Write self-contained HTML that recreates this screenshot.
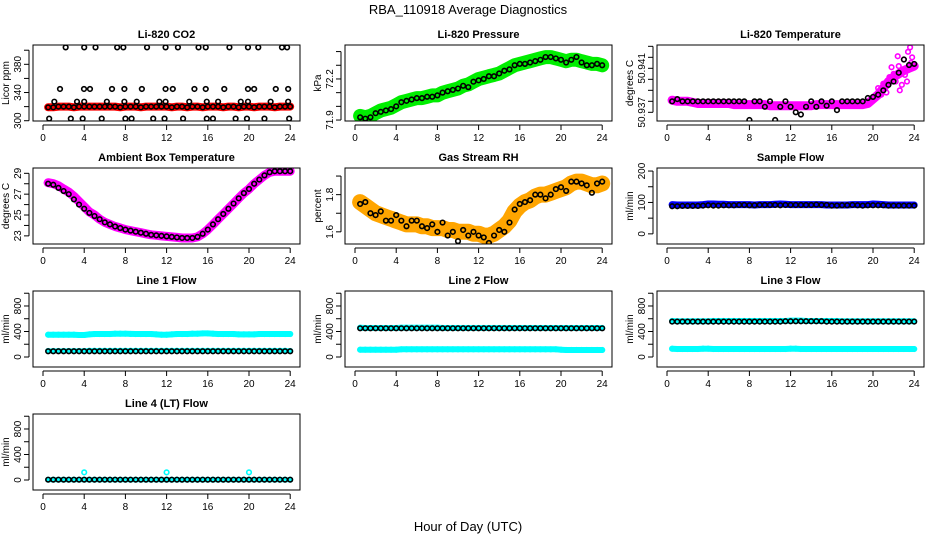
<!DOCTYPE html>
<html><head><meta charset="utf-8"><style>
html,body{margin:0;padding:0;background:#fff;}
svg{display:block;font-family:"Liberation Sans",sans-serif;}
</style></head><body>
<svg id="chart" width="936" height="540" viewBox="0 0 936 540" xmlns="http://www.w3.org/2000/svg">
<rect width="936" height="540" fill="#fff"/>
<text x="468" y="14" text-anchor="middle" font-size="13">RBA_110918  Average Diagnostics</text>
<text x="468" y="531" text-anchor="middle" font-size="13">Hour of Day (UTC)</text>
</svg>
<script>
const hours = [0.5,1,1.5,2,2.5,3,3.5,4,4.5,5,5.5,6,6.5,7,7.5,8,8.5,9,9.5,10,10.5,11,11.5,12,12.5,13,13.5,14,14.5,15,15.5,16,16.5,17,17.5,18,18.5,19,19.5,20,20.5,21,21.5,22,22.5,23,23.5,24];
const xTicks = [0,4,8,12,16,20,24];

const co2Color = [319,319,320,320,320,319,320,320,320,320,320,320,320,320,319,320,320,320,319,320,320,320,320,320,319,320,320,319,320,320,319,320,320,320,319,320,320,319,320,320,319,320,320,320,319,320,320,320];
const co2OutHours = [2.2,4.0,5.1,7.2,7.8,10.1,11.9,13.1,15.1,15.8,18.1,19.9,20.9,23.2,23.7,1.65,3.98,4.56,6.7,7.9,9.6,11.9,12.6,14.7,15.8,17.6,19.9,20.5,22.6,23.8,1.1,3.3,4.0,6.2,7.9,9.1,11.3,11.9,14.2,15.9,17.0,19.2,19.9,22.1,23.8,0.6,2.7,3.85,5.7,8.0,8.6,10.7,11.8,13.6,15.9,16.5,18.7,19.8,21.5,23.9];
const co2OutValues = [404,404,404,404,404,404,404,404,404,404,404,404,404,404,404,345,345,345,345,345,345,345,345,345,345,345,345,345,345,345,327,327,327,327,327,327,327,327,327,327,327,327,327,327,327,303,303,303,303,303,303,303,303,303,303,303,303,303,303,303];

const presGreen = [71.93,71.92,71.93,71.95,71.97,71.98,71.99,72.01,72.03,72.04,72.05,72.06,72.06,72.07,72.08,72.08,72.10,72.11,72.12,72.13,72.15,72.16,72.18,72.20,72.21,72.22,72.23,72.24,72.26,72.28,72.30,72.31,72.32,72.33,72.34,72.35,72.36,72.36,72.35,72.34,72.33,72.34,72.34,72.33,72.32,72.31,72.31,72.30];
const presBlack = [71.92,71.91,71.92,71.95,71.96,71.97,71.98,72.00,72.03,72.04,72.05,72.06,72.06,72.07,72.07,72.08,72.10,72.11,72.12,72.13,72.15,72.14,72.18,72.19,72.20,72.22,72.22,72.24,72.26,72.27,72.30,72.31,72.31,72.32,72.33,72.34,72.36,72.36,72.35,72.34,72.32,72.34,72.36,72.32,72.30,72.30,72.31,72.30];

const tempMag = [50.9381,50.938,50.938,50.938,50.9379,50.9378,50.9378,50.9378,50.9378,50.9378,50.9378,50.9378,50.9377,50.9377,50.9377,50.9377,50.9377,50.9377,50.9377,50.9376,50.9376,50.9376,50.9376,50.9376,50.9376,50.9376,50.9376,50.9376,50.9377,50.9377,50.9377,50.9377,50.9377,50.9377,50.9377,50.9377,50.9377,50.9377,50.9378,50.9382,50.9386,50.9392,50.9398,50.9402,50.9405,50.9408,50.941,50.9412];
const tempBlack = [50.938,50.9382,50.938,50.938,50.938,50.938,50.938,50.938,50.938,50.938,50.938,50.938,50.938,50.938,50.938,50.9363,50.938,50.938,50.9375,50.938,50.9363,50.9375,50.938,50.9375,50.937,50.9368,50.9375,50.938,50.9375,50.938,50.9376,50.938,50.9372,50.938,50.938,50.938,50.938,50.938,50.9383,50.9384,50.9386,50.939,50.9395,50.9398,50.9406,50.9418,50.9413,50.9414];
const tempScatHours = [20.5,21,21.3,21.6,22,22.2,22.5,22.8,23,23.2,23.4,23.6,23.8,21.8,22.6,23.1,23.7,20.8,22.4,23.3];
const tempScatValues = [50.9392,50.9396,50.9388,50.9402,50.9405,50.9398,50.9412,50.9395,50.9418,50.9408,50.9425,50.9429,50.942,50.9411,50.939,50.9404,50.9415,50.9386,50.9421,50.9398];

const ambMag = [28.1,28.0,27.8,27.5,27.2,26.8,26.3,25.8,25.3,25.0,24.6,24.3,24.1,23.9,23.75,23.6,23.5,23.4,23.3,23.2,23.1,23.05,23.0,22.95,22.9,22.85,22.8,22.8,22.8,22.9,23.2,23.6,24.1,24.6,25.1,25.6,26.1,26.6,27.1,27.5,28.0,28.4,28.8,29.1,29.2,29.2,29.2,29.2];
const ambBlack = [28.0,27.9,27.6,27.3,27.0,26.5,26.0,25.6,25.2,24.9,24.6,24.3,24.1,23.9,23.75,23.6,23.5,23.4,23.3,23.2,23.1,23.05,23.0,22.95,22.9,22.85,22.8,22.8,22.8,22.9,23.2,23.6,24.1,24.6,25.1,25.6,26.1,26.6,27.1,27.5,28.0,28.4,28.8,29.1,29.2,29.2,29.2,29.2];

const rhOrange = [1.76,1.74,1.72,1.70,1.69,1.68,1.67,1.66,1.65,1.64,1.64,1.64,1.63,1.63,1.62,1.62,1.62,1.61,1.61,1.60,1.60,1.60,1.59,1.59,1.58,1.58,1.59,1.61,1.63,1.66,1.71,1.74,1.76,1.77,1.79,1.80,1.80,1.81,1.82,1.83,1.84,1.86,1.87,1.87,1.86,1.85,1.85,1.86];
const rhBlack = [1.75,1.76,1.70,1.69,1.71,1.66,1.66,1.69,1.66,1.63,1.66,1.66,1.63,1.62,1.64,1.60,1.65,1.58,1.60,1.55,1.61,1.58,1.60,1.58,1.57,1.54,1.58,1.61,1.60,1.65,1.72,1.75,1.76,1.77,1.80,1.80,1.78,1.80,1.83,1.84,1.82,1.87,1.87,1.86,1.85,1.81,1.86,1.87];

const sfBlue = [93,92,92,92,92,92,93,95,95,94,94,93,93,93,93,93,92,93,93,93,94,95,94,93,93,93,93,93,93,93,92,92,92,92,92,93,93,93,93,95,94,93,92,92,92,92,92,92];
const sfBlack = [88,88,89,89,89,89,90,91,90,90,91,91,91,92,92,91,91,92,92,92,92,91,92,92,92,92,92,92,93,92,92,90,90,91,91,92,91,90,91,91,91,91,90,90,90,90,90,90];

const l1High = [350,350,350,350,350,350,345,345,355,360,360,360,360,365,365,365,362,360,360,360,360,355,350,350,355,360,360,360,365,365,370,370,365,360,360,360,360,355,355,355,355,360,360,360,360,360,360,360];
const l1Low = [95,95,95,95,95,95,95,95,100,100,100,100,100,100,100,100,100,100,100,100,100,100,100,100,100,100,100,100,100,100,100,100,100,100,100,100,100,100,100,100,100,100,100,100,100,100,100,95];
const l1Black = [90,90,90,90,90,90,90,90,90,90,90,90,90,90,90,90,90,90,90,90,90,90,90,90,90,90,90,90,90,90,90,90,90,90,90,90,90,90,90,90,90,90,90,90,90,90,90,90];

const l2High = [460,455,455,455,455,455,455,455,460,460,460,460,460,460,460,460,455,455,455,455,455,455,455,455,455,455,455,455,455,455,455,455,455,455,455,455,455,455,455,455,455,455,455,455,455,455,455,455];
const l2Low = [115,115,115,115,115,115,115,115,120,120,120,120,120,120,120,120,120,120,120,120,120,120,120,120,120,120,120,120,120,120,120,120,120,120,120,120,120,120,120,115,110,110,110,110,110,110,110,110];
const l2Black = [450,450,450,450,450,450,450,450,450,450,450,450,450,450,450,450,450,450,450,450,450,450,450,450,450,450,450,450,450,450,450,450,450,450,450,450,450,450,450,450,450,450,450,450,450,450,450,450];

const l3High = [565,560,560,560,560,560,560,560,565,565,565,565,565,565,565,565,565,565,565,565,565,565,565,570,570,570,565,565,565,565,565,565,565,560,560,560,560,560,560,560,560,560,560,560,560,560,560,560];
const l3Low = [130,125,125,125,125,125,130,130,125,125,125,125,125,125,125,125,125,125,125,125,125,125,125,130,130,125,125,125,125,125,125,125,125,125,125,125,125,125,125,125,125,125,125,125,125,125,125,125];
const l3Black = [555,555,555,555,555,555,555,555,555,555,555,555,555,555,555,555,555,555,555,555,555,555,560,560,560,560,560,560,560,560,555,555,555,555,555,555,555,555,555,555,555,555,555,555,555,555,555,555];

const l4Cyan = [5,5,5,5,5,5,5,5,5,5,5,5,5,5,5,5,5,5,5,5,5,5,5,5,5,5,5,5,5,5,5,5,5,5,5,5,5,5,5,5,5,5,5,5,5,5,5,5];
const l4Black = [5,5,5,5,5,5,5,5,5,5,5,5,5,5,5,5,5,5,5,5,5,5,5,5,5,5,5,5,5,5,5,5,5,5,5,5,5,5,5,5,5,5,5,5,5,5,5,5];
const l4OutHours = [4,12,20];
const l4OutValues = [120,120,120];

const SVGNS = "http://www.w3.org/2000/svg";
const svg = document.getElementById('chart');
function mk(tag, attrs, parent){
  const e = document.createElementNS(SVGNS, tag);
  for (const k in attrs) e.setAttribute(k, attrs[k]);
  (parent || svg).appendChild(e);
  return e;
}
const colLeft = [33,345,657], rowTop = [45,168,291,414], PW = 267, PH = 76;

function panel(c){
  const L = colLeft[c.col], T = rowTop[c.row], B = T + PH;
  const g = mk('g', {});
  
  
  const xs = h => L + 10 + h * 10.3;
  const ys = v => B - (v - c.ymin) / (c.ymax - c.ymin) * PH;
  const t = mk('text', {x: L + PW/2, y: T - 7, 'text-anchor':'middle', 'font-size':'11', 'font-weight':'bold'}, g);
  
  
  t.textContent = c.title;
  const clip = 'clip' + c.row + c.col;
  const cp = mk('clipPath', {id: clip}, g);
  mk('rect', {x: L, y: T, width: PW, height: PH}, cp);
  const pg = mk('g', {'clip-path': 'url(#' + clip + ')'}, g);
  (c.bands || []).forEach(bd => {
    const pts = bd.vals.map((v,i) => xs(hours[i]).toFixed(1) + ',' + ys(v).toFixed(1)).join(' ');
    const pl = mk('polyline', {points: pts, fill:'none', stroke: bd.color, 'stroke-width': bd.w, 'stroke-linejoin':'round', 'stroke-linecap':'round'}, pg);
    
    
    bd.vals.forEach((v,i) => {
      const p = mk('circle', {cx: xs(hours[i]), cy: ys(v), r: 2.3, fill:'none', stroke: bd.color, 'stroke-width': 1.5}, pg);
      
      
    });
  });
  (c.scatters || []).forEach(sc => {
    sc.vals.forEach((v,i) => {
      const p = mk('circle', {cx: xs(sc.hrs ? sc.hrs[i] : hours[i]), cy: ys(v), r: 2.3, fill:'none', stroke: sc.color, 'stroke-width': 1.6}, pg);
      
      
    });
  });
  const fr = mk('rect', {x: L, y: T, width: PW, height: PH, fill:'none', stroke:'#000', 'stroke-width':1}, g);
  
  
  mk('line', {x1: xs(0), x2: xs(24), y1: B + 4, y2: B + 4, stroke:'#000'}, g);
  xTicks.forEach(h => {
    mk('line', {x1: xs(h), x2: xs(h), y1: B + 4, y2: B + 9, stroke:'#000'}, g);
    const tl = mk('text', {x: xs(h), y: B + 20, 'text-anchor':'middle', 'font-size':'10'}, g);
    
    
    tl.textContent = h;
  });
  const y0 = ys(c.yticks[0]), y1 = ys(c.yticks[c.yticks.length-1]);
  mk('line', {x1: L - 4, x2: L - 4, y1: y0, y2: y1, stroke:'#000'}, g);
  c.yticks.forEach((v,i) => {
    mk('line', {x1: L - 9, x2: L - 4, y1: ys(v), y2: ys(v), stroke:'#000'}, g);
    if (c.ylabels[i]) {
      const tl = mk('text', {x: 0, y: 0, 'text-anchor':'middle', 'font-size':'10', transform: 'translate(' + (L - 12) + ',' + ys(v) + ') rotate(-90)'}, g);
      
      
      tl.textContent = c.ylabels[i];
    }
  });
  const yt = mk('text', {x: 0, y: 0, 'text-anchor':'middle', 'font-size':'10', transform: 'translate(' + (L - 24) + ',' + (T + PH/2) + ') rotate(-90)'}, g);
  
  
  yt.textContent = c.ytitle;
}

const flowTicks = [0,200,400,600,800,1000], flowLabels = ['0','','400','','800',''];
panel({name:'co2-panel', title:'Li-820 CO2', row:0, col:0, ymin:299.6, ymax:407.4, yticks:[300,320,340,360,380,400], ylabels:['300','','340','','380',''], ytitle:'Licor ppm',
  bands:[{vals:co2Color, color:'#ff0000', w:8}], scatters:[{vals:co2OutValues, hrs:co2OutHours, color:'#000'}, {vals:co2Color, color:'#000'}]});
panel({name:'pressure-panel', title:'Li-820 Pressure', row:0, col:1, ymin:71.893, ymax:72.448, yticks:[71.9,72.0,72.1,72.2,72.3,72.4], ylabels:['71.9','','','72.2','',''], ytitle:'kPa',
  bands:[{vals:presGreen, color:'#00ee00', w:14}], scatters:[{vals:presBlack, color:'#000'}]});
panel({name:'temperature-panel', title:'Li-820 Temperature', row:0, col:2, ymin:50.93621, ymax:50.94312, yticks:[50.937,50.938,50.939,50.940,50.941,50.942,50.943], ylabels:['50.937','','','','50.941','',''], ytitle:'degrees C',
  bands:[{vals:tempMag, color:'#ff00ff', w:9}], scatters:[{vals:tempScatValues, hrs:tempScatHours, color:'#ff00ff'}, {vals:tempBlack, color:'#000'}]});
panel({name:'ambient-temp-panel', title:'Ambient Box Temperature', row:1, col:0, ymin:22.22, ymax:29.51, yticks:[23,24,25,26,27,28,29], ylabels:['23','','25','','27','','29'], ytitle:'degrees C',
  bands:[{vals:ambMag, color:'#ff00ff', w:9}], scatters:[{vals:ambBlack, color:'#000'}]});
panel({name:'rh-panel', title:'Gas Stream RH', row:1, col:1, ymin:1.5346, ymax:1.9433, yticks:[1.6,1.7,1.8,1.9], ylabels:['1.6','','1.8',''], ytitle:'percent',
  bands:[{vals:rhOrange, color:'#ffa500', w:16}], scatters:[{vals:rhBlack, color:'#000'}]});
panel({name:'sample-flow-panel', title:'Sample Flow', row:1, col:2, ymin:-32.3, ymax:209.7, yticks:[0,50,100,150,200], ylabels:['0','','100','','200'], ytitle:'ml/min',
  bands:[{vals:sfBlue, color:'#0000ff', w:7}], scatters:[{vals:sfBlack, color:'#000'}]});
panel({name:'line1-flow-panel', title:'Line 1 Flow', row:2, col:0, ymin:-157, ymax:1035, yticks:flowTicks, ylabels:flowLabels, ytitle:'ml/min',
  bands:[{vals:l1High, color:'#00ffff', w:6}, {vals:l1Low, color:'#00ffff', w:5}], scatters:[{vals:l1Black, color:'#000'}]});
panel({name:'line2-flow-panel', title:'Line 2 Flow', row:2, col:1, ymin:-157, ymax:1035, yticks:flowTicks, ylabels:flowLabels, ytitle:'ml/min',
  bands:[{vals:l2High, color:'#00ffff', w:6}, {vals:l2Low, color:'#00ffff', w:6}], scatters:[{vals:l2Black, color:'#000'}]});
panel({name:'line3-flow-panel', title:'Line 3 Flow', row:2, col:2, ymin:-157, ymax:1035, yticks:flowTicks, ylabels:flowLabels, ytitle:'ml/min',
  bands:[{vals:l3High, color:'#00ffff', w:6}, {vals:l3Low, color:'#00ffff', w:6}], scatters:[{vals:l3Black, color:'#000'}]});
panel({name:'line4-flow-panel', title:'Line 4 (LT) Flow', row:3, col:0, ymin:-157, ymax:1035, yticks:flowTicks, ylabels:flowLabels, ytitle:'ml/min',
  bands:[{vals:l4Cyan, color:'#00ffff', w:5}], scatters:[{vals:l4OutValues, hrs:l4OutHours, color:'#00ffff'}, {vals:l4Black, color:'#000'}]});
</script>
</body></html>
